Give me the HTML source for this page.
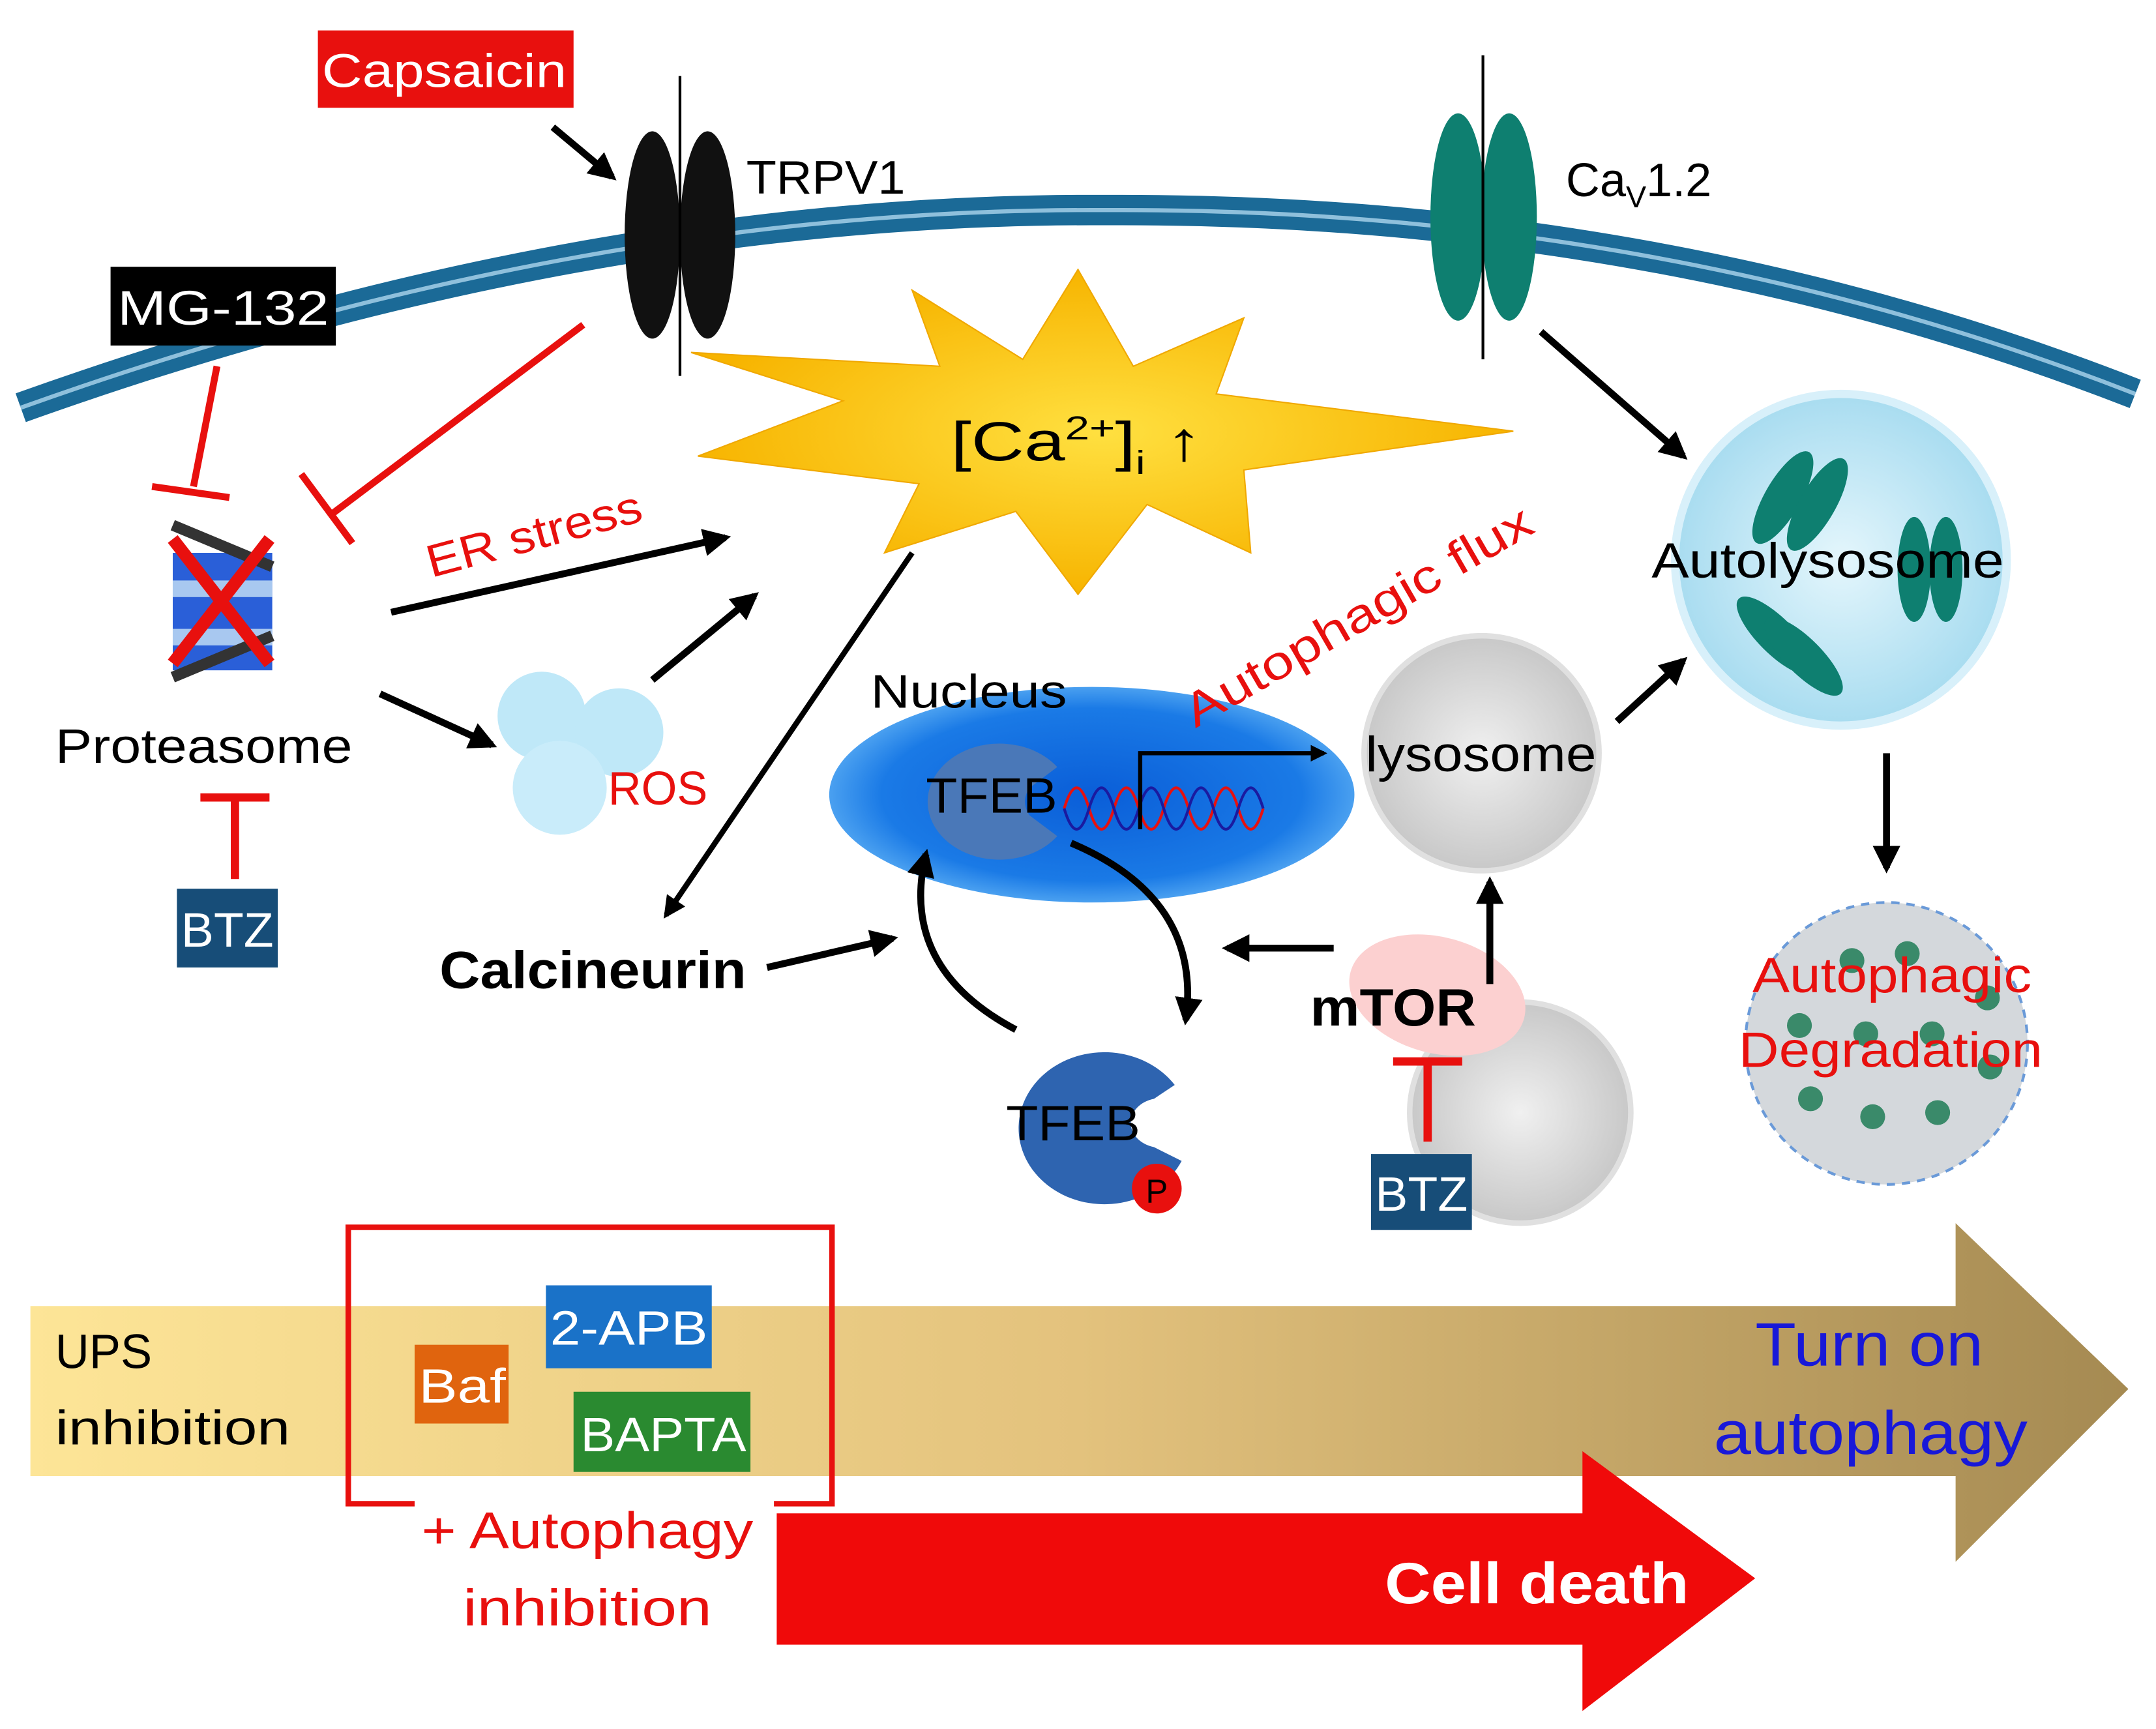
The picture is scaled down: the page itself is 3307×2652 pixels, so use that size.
<!DOCTYPE html>
<html><head><meta charset="utf-8"><style>
html,body{margin:0;padding:0;background:#fff}
svg{display:block}
text{font-family:"Liberation Sans",sans-serif}
</style></head><body>
<svg width="3307" height="2652" viewBox="0 0 1560 1251" xmlns="http://www.w3.org/2000/svg">
<defs>
<marker id="ah" viewBox="0 0 10 10" refX="8" refY="5" markerWidth="4" markerHeight="4" orient="auto"><path d="M0,0 L10,5 L0,10 z" fill="#000"/></marker>
<linearGradient id="bg" x1="0" x2="1" y1="0" y2="0"><stop offset="0" stop-color="#fde597"/><stop offset="0.5" stop-color="#e3c27d"/><stop offset="1" stop-color="#a58a52"/></linearGradient>
<radialGradient id="star" cx="0.5" cy="0.5" r="0.5"><stop offset="0" stop-color="#ffe040"/><stop offset="1" stop-color="#f7b400"/></radialGradient>
<radialGradient id="nuc" cx="0.5" cy="0.5" r="0.5"><stop offset="0" stop-color="#0a5ed8"/><stop offset="0.8" stop-color="#1a7ae6"/><stop offset="1" stop-color="#4aa0f0"/></radialGradient>
<radialGradient id="lys" cx="0.5" cy="0.5" r="0.5"><stop offset="0" stop-color="#f0f0f0"/><stop offset="1" stop-color="#c8c8c8"/></radialGradient>
<radialGradient id="aut" cx="0.5" cy="0.5" r="0.5"><stop offset="0" stop-color="#e4f6fc"/><stop offset="1" stop-color="#a8dcf0"/></radialGradient>
</defs>
<!-- membrane -->
<path d="M15,295 Q420,150 800,152 Q1200,150 1545,285" fill="none" stroke="#1b6a97" stroke-width="22"/>
<path d="M15,295 Q420,150 800,152 Q1200,150 1545,285" fill="none" stroke="#8fc0dc" stroke-width="3"/>
<!-- capsaicin -->
<rect x="230" y="22" width="185" height="56" fill="#e8100e"/>
<text x="233" y="63" font-size="34" fill="#fff" textLength="177" lengthAdjust="spacingAndGlyphs">Capsaicin</text>
<line x1="400" y1="92" x2="443" y2="128" stroke="#000" stroke-width="5" marker-end="url(#ah)"/>
<!-- TRPV1 -->
<ellipse cx="472" cy="170" rx="20" ry="75" fill="#111"/>
<ellipse cx="512" cy="170" rx="20" ry="75" fill="#111"/>
<line x1="492" y1="55" x2="492" y2="272" stroke="#000" stroke-width="2"/>
<text x="540" y="140" font-size="34" textLength="115" lengthAdjust="spacingAndGlyphs">TRPV1</text>
<!-- Cav -->
<ellipse cx="1055" cy="157" rx="20" ry="75" fill="#0e7f70"/>
<ellipse cx="1092" cy="157" rx="20" ry="75" fill="#0e7f70"/>
<line x1="1073" y1="40" x2="1073" y2="260" stroke="#000" stroke-width="2"/>
<text x="1133" y="142" font-size="34">Ca<tspan font-size="22" dy="8">V</tspan><tspan dy="-8">1.2</tspan></text>
<!-- MG-132 -->
<rect x="80" y="193" width="163" height="57" fill="#000"/>
<text x="85" y="235" font-size="35" fill="#fff" textLength="153" lengthAdjust="spacingAndGlyphs">MG-132</text>
<line x1="157" y1="265" x2="140" y2="352" stroke="#e8100e" stroke-width="5"/>
<line x1="110" y1="352" x2="166" y2="360" stroke="#e8100e" stroke-width="5"/>
<line x1="422" y1="235" x2="240" y2="372" stroke="#e8100e" stroke-width="5"/>
<line x1="218" y1="343" x2="255" y2="393" stroke="#e8100e" stroke-width="5"/>
<!-- proteasome -->
<rect x="125" y="400" width="72" height="85" fill="#2a5fd8"/>
<rect x="125" y="420" width="72" height="12" fill="#a8c8f0"/>
<rect x="125" y="455" width="72" height="12" fill="#a8c8f0"/>
<path d="M125,380 L197,410 M125,490 L197,460" stroke="#333" stroke-width="8"/>
<path d="M125,390 L195,480 M195,390 L125,480" stroke="#e8100e" stroke-width="9"/>
<text x="40" y="552" font-size="35" textLength="215" lengthAdjust="spacingAndGlyphs">Proteasome</text>
<line x1="145" y1="577" x2="195" y2="577" stroke="#e8100e" stroke-width="6"/>
<line x1="170" y1="577" x2="170" y2="636" stroke="#e8100e" stroke-width="6"/>
<rect x="128" y="643" width="73" height="57" fill="#174d78"/>
<text x="131" y="685" font-size="35" fill="#fff" textLength="67" lengthAdjust="spacingAndGlyphs">BTZ</text>
<!-- star -->
<polygon points="780,195 820,265 900,230 880,285 1095,312 900,340 905,400 830,365 780,430 735,370 640,400 665,350 505,330 610,290 500,255 680,265 660,210 740,260" fill="url(#star)" stroke="#f0a800" stroke-width="1"/>
<text x="688" y="333" font-size="40" textLength="182" lengthAdjust="spacingAndGlyphs">[Ca<tspan font-size="24" dy="-15">2+</tspan><tspan dy="15">]</tspan><tspan font-size="24" dy="10">i</tspan><tspan dy="-10"> ↑</tspan></text>
<!-- ER stress -->
<text x="312" y="418" font-size="33" fill="#e8100e" transform="rotate(-15 312 418)" textLength="160" lengthAdjust="spacingAndGlyphs">ER stress</text>
<line x1="283" y1="443" x2="525" y2="389" stroke="#000" stroke-width="5" marker-end="url(#ah)"/>
<!-- ROS -->
<circle cx="392" cy="518" r="32" fill="#bfe8f8"/>
<circle cx="448" cy="530" r="32" fill="#bfe8f8"/>
<circle cx="405" cy="570" r="34" fill="#c9ecfa"/>
<text x="440" y="582" font-size="34" fill="#e8100e" textLength="72" lengthAdjust="spacingAndGlyphs">ROS</text>
<line x1="275" y1="502" x2="356" y2="539" stroke="#000" stroke-width="5" marker-end="url(#ah)"/>
<line x1="472" y1="492" x2="546" y2="431" stroke="#000" stroke-width="5" marker-end="url(#ah)"/>
<!-- calcineurin -->
<line x1="660" y1="400" x2="482" y2="662" stroke="#000" stroke-width="4" marker-end="url(#ah)"/>
<text x="318" y="715" font-size="38" font-weight="bold" textLength="222" lengthAdjust="spacingAndGlyphs">Calcineurin</text>
<line x1="555" y1="700" x2="646" y2="679" stroke="#000" stroke-width="5" marker-end="url(#ah)"/>
<!-- nucleus -->
<ellipse cx="790" cy="575" rx="190" ry="78" fill="url(#nuc)"/>
<text x="630" y="512" font-size="34" textLength="142" lengthAdjust="spacingAndGlyphs">Nucleus</text>
<path d="M765,555 A52,42 0 1 0 765,605 L745,590 A25,20 0 0 1 745,570 Z" fill="#4a78b8"/>
<text x="670" y="588" font-size="36" textLength="95" lengthAdjust="spacingAndGlyphs">TFEB</text>
<path d="M770,585 q9,-30 18,0 t18,0 t18,0 t18,0 t18,0 t18,0 t18,0 t18,0" fill="none" stroke="#e8100e" stroke-width="2"/>
<path d="M770,585 q9,30 18,0 t18,0 t18,0 t18,0 t18,0 t18,0 t18,0 t18,0" fill="none" stroke="#1a1aa0" stroke-width="2"/>
<path d="M825,600 L825,545 L958,545" fill="none" stroke="#000" stroke-width="3" marker-end="url(#ah)"/>
<text x="865" y="527" font-size="34" fill="#e8100e" transform="rotate(-30 865 527)" textLength="285" lengthAdjust="spacingAndGlyphs">Autophagic flux</text>
<!-- lysosome -->
<circle cx="1072" cy="545" r="85" fill="url(#lys)" stroke="#e0e0e0" stroke-width="4"/>
<text x="988" y="558" font-size="36" textLength="167" lengthAdjust="spacingAndGlyphs">lysosome</text>
<!-- autolysosome -->
<circle cx="1332" cy="405" r="120" fill="url(#aut)" stroke="#d8f0fa" stroke-width="6"/>
<g fill="#0e7f70">
<ellipse cx="1290" cy="360" rx="13" ry="38" transform="rotate(30 1290 360)"/><ellipse cx="1315" cy="365" rx="13" ry="38" transform="rotate(30 1315 365)"/>
<ellipse cx="1385" cy="412" rx="12" ry="38"/><ellipse cx="1408" cy="412" rx="12" ry="38"/>
<ellipse cx="1285" cy="460" rx="13" ry="38" transform="rotate(-45 1285 460)"/><ellipse cx="1305" cy="475" rx="13" ry="38" transform="rotate(-45 1305 475)"/>
</g>
<text x="1195" y="418" font-size="36" textLength="255" lengthAdjust="spacingAndGlyphs">Autolysosome</text>
<line x1="1115" y1="240" x2="1218" y2="330" stroke="#000" stroke-width="5" marker-end="url(#ah)"/>
<line x1="1170" y1="522" x2="1218" y2="478" stroke="#000" stroke-width="5" marker-end="url(#ah)"/>
<line x1="1365" y1="545" x2="1365" y2="628" stroke="#000" stroke-width="5" marker-end="url(#ah)"/>
<!-- degradation -->
<circle cx="1365" cy="755" r="102" fill="#d4d8dc" stroke="#6a9ad8" stroke-width="2" stroke-dasharray="6,5"/>
<g fill="#3a8a6a"><circle cx="1340" cy="695" r="9"/><circle cx="1380" cy="690" r="9"/><circle cx="1302" cy="742" r="9"/><circle cx="1350" cy="748" r="9"/><circle cx="1398" cy="748" r="9"/><circle cx="1440" cy="772" r="9"/><circle cx="1310" cy="795" r="9"/><circle cx="1355" cy="808" r="9"/><circle cx="1402" cy="805" r="9"/><circle cx="1438" cy="722" r="9"/></g>
<text x="1268" y="718" font-size="36" fill="#e8100e" textLength="202" lengthAdjust="spacingAndGlyphs">Autophagic</text>
<text x="1258" y="772" font-size="36" fill="#e8100e" textLength="220" lengthAdjust="spacingAndGlyphs">Degradation</text>
<!-- mTOR -->
<circle cx="1100" cy="805" r="80" fill="url(#lys)" stroke="#e0e0e0" stroke-width="4"/>
<ellipse cx="1040" cy="720" rx="65" ry="42" fill="#fcd0d0" transform="rotate(15 1040 720)"/>
<text x="948" y="742" font-size="38" font-weight="bold" textLength="120" lengthAdjust="spacingAndGlyphs">mTOR</text>
<line x1="1078" y1="712" x2="1078" y2="638" stroke="#000" stroke-width="5" marker-end="url(#ah)"/>
<line x1="965" y1="686" x2="888" y2="686" stroke="#000" stroke-width="5" marker-end="url(#ah)"/>
<line x1="1008" y1="768" x2="1058" y2="768" stroke="#e8100e" stroke-width="6"/>
<line x1="1033" y1="768" x2="1033" y2="826" stroke="#e8100e" stroke-width="6"/>
<rect x="992" y="835" width="73" height="55" fill="#174d78"/>
<text x="995" y="876" font-size="35" fill="#fff" textLength="67" lengthAdjust="spacingAndGlyphs">BTZ</text>
<!-- TFEB-P -->
<path d="M850,785 A62,55 0 1 0 855,840 L835,830 A22,18 0 0 1 835,795 Z" fill="#2e64b0"/>
<text x="728" y="825" font-size="36" textLength="97" lengthAdjust="spacingAndGlyphs">TFEB</text>
<circle cx="837" cy="860" r="18" fill="#e8100e"/>
<text x="837" y="870" font-size="24" text-anchor="middle">P</text>
<path d="M775,610 Q870,650 858,738" fill="none" stroke="#000" stroke-width="5" marker-end="url(#ah)"/>
<path d="M735,745 Q650,700 670,618" fill="none" stroke="#000" stroke-width="5" marker-end="url(#ah)"/>
<!-- bottom arrow -->
<polygon points="22,945 1415,945 1415,885 1540,1005 1415,1130 1415,1068 22,1068" fill="url(#bg)"/>
<text x="40" y="990" font-size="35" textLength="70" lengthAdjust="spacingAndGlyphs">UPS</text>
<text x="40" y="1045" font-size="35" textLength="170" lengthAdjust="spacingAndGlyphs">inhibition</text>
<text x="1270" y="988" font-size="44" fill="#1818d8" textLength="165" lengthAdjust="spacingAndGlyphs">Turn on</text>
<text x="1240" y="1052" font-size="44" fill="#1818d8" textLength="227" lengthAdjust="spacingAndGlyphs">autophagy</text>
<path d="M300,1088 L252,1088 L252,888 L602,888 L602,1088 L560,1088" fill="none" stroke="#e8100e" stroke-width="4"/>
<rect x="300" y="973" width="68" height="57" fill="#e0640e"/>
<text x="303" y="1015" font-size="35" fill="#fff" textLength="63" lengthAdjust="spacingAndGlyphs">Baf</text>
<rect x="395" y="930" width="120" height="60" fill="#1a72c8"/>
<text x="398" y="973" font-size="35" fill="#fff" textLength="114" lengthAdjust="spacingAndGlyphs">2-APB</text>
<rect x="415" y="1007" width="128" height="58" fill="#2a8a30"/>
<text x="420" y="1050" font-size="35" fill="#fff" textLength="120" lengthAdjust="spacingAndGlyphs">BAPTA</text>
<text x="305" y="1120" font-size="37" fill="#e8100e" textLength="240" lengthAdjust="spacingAndGlyphs">+ Autophagy</text>
<text x="335" y="1176" font-size="37" fill="#e8100e" textLength="180" lengthAdjust="spacingAndGlyphs">inhibition</text>
<!-- cell death -->
<polygon points="562,1095 1145,1095 1145,1050 1270,1142 1145,1238 1145,1190 562,1190" fill="#f00a0a"/>
<text x="1002" y="1160" font-size="42" font-weight="bold" fill="#fff" textLength="220" lengthAdjust="spacingAndGlyphs">Cell death</text>
</svg>
</body></html>
